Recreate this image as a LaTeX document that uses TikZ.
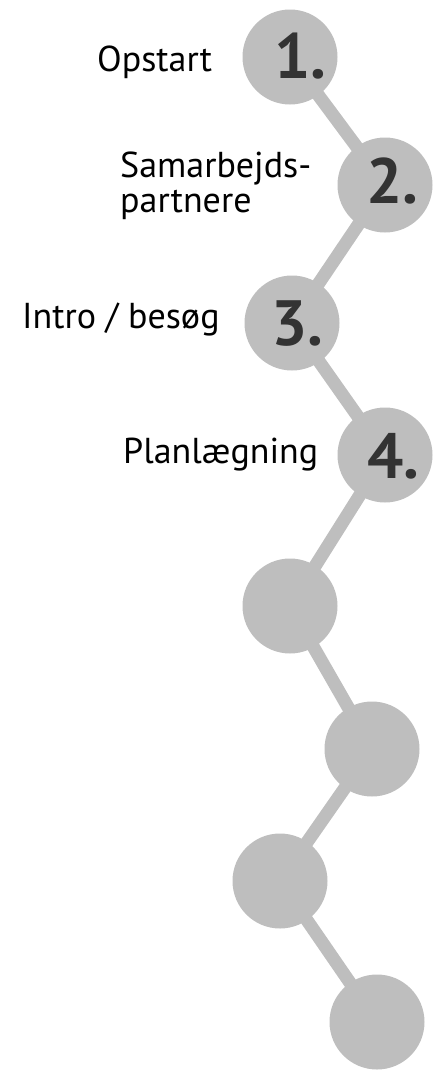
\documentclass[tikz,border=0pt]{standalone}
\usepackage{fontspec}
\setmainfont{PT Sans}
\definecolor{dotgray}{HTML}{BEBEBE}
\definecolor{numgray}{HTML}{333333}
\begin{document}
\begin{tikzpicture}[x=1pt,y=-1pt,
  dot/.style={circle,fill=dotgray,minimum size=95pt,inner sep=0pt},
  link/.style={draw=dotgray,line width=13pt},
  num/.style={font=\fontsize{64}{64}\selectfont\bfseries,text=numgray,inner sep=0pt},
  lbl/.style={font=\fontsize{36}{35}\selectfont,text=black,inner sep=0pt,align=left}]
\useasboundingbox (0,0) rectangle (432,1072);
\coordinate (p1) at (290,57);
\coordinate (p2) at (385,185);
\coordinate (p3) at (292,323);
\coordinate (p4) at (385,455);
\coordinate (p5) at (290,606);
\coordinate (p6) at (372,749);
\coordinate (p7) at (280,881);
\coordinate (p8) at (377,1022);
\draw[link] (p1) -- (p2) -- (p3) -- (p4) -- (p5) -- (p6) -- (p7) -- (p8);
\foreach \i in {1,...,8} { \node[dot] (c\i) at (p\i) {}; }
\node[num,anchor=base west] (n1) at (274,78) {1.};
\node[num,anchor=base west] (n2) at (366,203) {2.};
\node[num,anchor=base west] (n3) at (271,345) {3.};
\node[num,anchor=base west] (n4) at (367,478) {4.};
\node[lbl,anchor=base west] (l1) at (97,71) {Opstart};
\node[lbl,anchor=base west] (l2) at (120,177) {Samarbejds-};
\node[lbl,anchor=base west] (l2b) at (120,212) {partnere};
\node[lbl,anchor=base west] (l3) at (22,328) {Intro / besøg};
\node[lbl,anchor=base west] (l4) at (123,463) {Planlægning};
\end{tikzpicture}
\end{document}
